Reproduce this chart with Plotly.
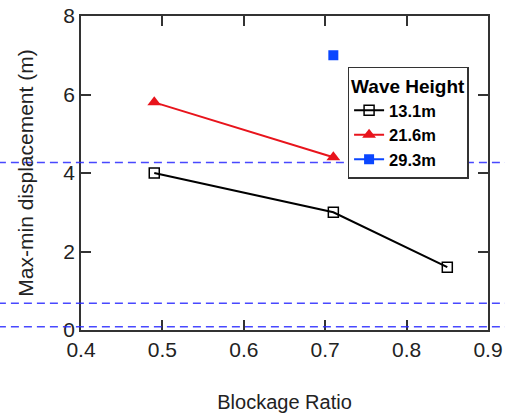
import plotly.graph_objects as go

blockage_ratio_131 = [0.49, 0.71, 0.85]
disp_131 = [4.0, 3.0, 1.6]
blockage_ratio_216 = [0.49, 0.71]
disp_216 = [5.8, 4.4]
blockage_ratio_293 = [0.71]
disp_293 = [7.0]
series_names = ["13.1m", "21.6m", "29.3m"]
ref_lines = [4.27, 0.68, 0.08]
x_ticks = [0.4, 0.5, 0.6, 0.7, 0.8, 0.9]
y_ticks = [0, 2, 4, 6, 8]

FONT = "Liberation Sans, Arial, sans-serif"
AX = "#333333"

fig = go.Figure()
fig.add_trace(go.Scatter(
    x=blockage_ratio_131, y=disp_131, name=series_names[0], mode="lines+markers",
    line=dict(color="black", width=2),
    marker=dict(symbol="square-open", size=10, color="black", line=dict(width=1.5))))
fig.add_trace(go.Scatter(
    x=blockage_ratio_216, y=disp_216, name=series_names[1], mode="lines+markers",
    line=dict(color="#e8141c", width=2),
    marker=dict(symbol="triangle-up", size=12, color="#e8141c")))
fig.add_trace(go.Scatter(
    x=blockage_ratio_293, y=disp_293, name=series_names[2], mode="lines+markers",
    line=dict(color="#0a46ff", width=2),
    marker=dict(symbol="square", size=10, color="#0a46ff")))

for v in ref_lines:
    fig.add_shape(type="line", xref="paper", yref="y", x0=-0.3, x1=1.2, y0=v, y1=v,
                  line=dict(color="rgba(40,40,255,0.85)", width=1.5, dash="8px,5px"),
                  layer="above")

axis_common = dict(showline=True, linecolor=AX, linewidth=1.5, mirror="ticks",
                   ticks="inside", ticklen=10, tickwidth=1.5, tickcolor=AX,
                   showgrid=False, zeroline=False, automargin=False,
                   tickfont=dict(family=FONT, size=21, color="#222"))

fig.update_xaxes(range=[0.4, 0.9], tickvals=x_ticks, ticktext=[f"{t:.1f}" for t in x_ticks],
                 title=dict(text="Blockage Ratio", font=dict(family=FONT, size=20, color="#222"),
                            standoff=35),
                 **axis_common)
fig.update_yaxes(range=[0, 8], tickvals=y_ticks,
                 title=dict(text="Max-min displacement (m)", font=dict(family=FONT, size=21, color="#222"),
                            standoff=24),
                 **axis_common)

fig.update_layout(
    width=505, height=413,
    margin=dict(l=81, r=17, t=16, b=83),
    paper_bgcolor="white", plot_bgcolor="white",
    showlegend=True,
    legend=dict(
        title=dict(text="<b>Wave Height</b>", font=dict(family=FONT, size=19, color="black")),
        font=dict(family=FONT, size=16.5, color="black", weight="bold"),
        x=0.655, y=0.838, xanchor="left", yanchor="top",
        bgcolor="white", bordercolor=AX, borderwidth=1.5,
        tracegroupgap=0, itemwidth=30),
)

fig.write_html("out.html", config={"displayModeBar": False},
               post_script="document.body.style.margin='0';document.body.style.padding='0';")
